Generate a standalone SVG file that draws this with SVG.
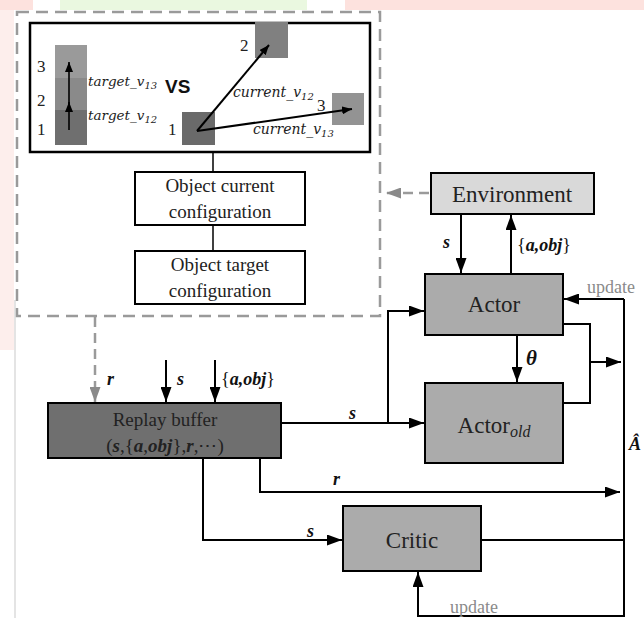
<svg xmlns="http://www.w3.org/2000/svg" width="644" height="618" viewBox="0 0 644 618">
<defs>
<marker id="ah" markerWidth="10" markerHeight="8" refX="10" refY="4" orient="auto" markerUnits="userSpaceOnUse"><path d="M0,0 L10,4 L0,8 Z" fill="#000"/></marker>
<marker id="ahb" markerWidth="15" markerHeight="11" refX="15" refY="5.5" orient="auto" markerUnits="userSpaceOnUse"><path d="M0,0 L15,5.5 L0,11 Z" fill="#000"/></marker>
<marker id="ahg" markerWidth="15" markerHeight="11" refX="15" refY="5.5" orient="auto" markerUnits="userSpaceOnUse"><path d="M0,0 L15,5.5 L0,11 Z" fill="#8a8a8a"/></marker>
</defs>
<style>
.box{stroke:#000;stroke-width:2}
.w{fill:#fff}
.lt{fill:#d9d9d9}
.md{fill:#ababab}
.dk{fill:#6f6f6f}
.ln{fill:none;stroke:#000;stroke-width:2}
.lnt{fill:none;stroke:#000;stroke-width:1.6}
.dash{fill:none;stroke:#9a9a9a;stroke-width:2.5;stroke-dasharray:12,7}
.serif{font-family:"Liberation Serif","DejaVu Serif",serif;fill:#222}
.lbl{font-family:"Liberation Serif","DejaVu Serif",serif;font-weight:bold;font-style:italic;fill:#111}
.it{font-family:"DejaVu Serif","Liberation Serif",serif;font-style:italic;fill:#222}
.upd{font-family:"Liberation Serif","DejaVu Serif",serif;fill:#8a8a8a;font-size:18px}
</style>
<rect x="0" y="0" width="644" height="618" fill="#fff"/>
<rect x="0" y="0" width="33" height="10" fill="#fde2de"/>
<rect x="60" y="0" width="247" height="10" fill="#eaf8e0"/>
<rect x="345" y="0" width="299" height="10" fill="#fde2de"/>
<rect x="0" y="10" width="14" height="340" fill="#fdeeec"/>
<line x1="15" y1="300" x2="15" y2="618" stroke="#e4e4e4" stroke-width="2"/>

<g id="config-panel">
<rect class="dash" x="17" y="12" width="363" height="304"/>
<rect x="30" y="23" width="340" height="129" fill="#fff" stroke="#000" stroke-width="2.5"/>
<rect x="55" y="45" width="32" height="33" fill="#9a9a9a"/>
<rect x="55" y="78" width="32" height="32" fill="#8a8a8a"/>
<rect x="55" y="110" width="32" height="35" fill="#6f6f6f"/>
<line class="lnt" x1="69" y1="130" x2="69" y2="102" marker-end="url(#ah)"/>
<line class="lnt" x1="69" y1="110" x2="69" y2="62" marker-end="url(#ah)"/>
<text class="serif" x="37" y="72" font-size="17">3</text>
<text class="serif" x="37" y="106" font-size="17">2</text>
<text class="serif" x="37" y="135" font-size="17">1</text>
<text class="it" x="88" y="86" font-size="13.5">target_<tspan>v</tspan><tspan font-size="10" dy="3">13</tspan></text>
<text class="it" x="88" y="120" font-size="13.5">target_<tspan>v</tspan><tspan font-size="10" dy="3">12</tspan></text>
<text x="165" y="93" font-family="'Liberation Sans',Arial,sans-serif" font-weight="bold" font-size="19" fill="#111">VS</text>
<rect x="182" y="112" width="33" height="33" fill="#6a6a6a"/>
<rect x="255" y="22" width="33" height="36" fill="#808080"/>
<rect x="332" y="93" width="32" height="32" fill="#939393"/>
<text class="serif" x="168" y="135" font-size="17">1</text>
<text class="serif" x="240" y="51" font-size="17">2</text>
<text class="serif" x="317" y="111" font-size="17">3</text>
<line class="ln" x1="197" y1="131" x2="269" y2="45" marker-end="url(#ah)"/>
<line class="ln" x1="197" y1="131" x2="352" y2="109" marker-end="url(#ah)"/>
<text class="it" x="233" y="97" font-size="14">current_<tspan>v</tspan><tspan font-size="10" dy="3">12</tspan></text>
<text class="it" x="253" y="134" font-size="14">current_<tspan>v</tspan><tspan font-size="10" dy="3">13</tspan></text>
</g>

<g id="obj-current">
<rect class="box w" x="135" y="172" width="170" height="53"/>
<text class="serif" x="220" y="192" font-size="19" text-anchor="middle">Object current</text>
<text class="serif" x="220" y="218" font-size="19" text-anchor="middle">configuration</text>
</g>
<g id="obj-target">
<rect class="box w" x="135" y="251" width="170" height="53"/>
<text class="serif" x="220" y="271" font-size="19" text-anchor="middle">Object target</text>
<text class="serif" x="220" y="297" font-size="19" text-anchor="middle">configuration</text>
</g>

<g id="environment">
<rect class="box lt" x="431" y="173" width="163" height="41"/>
<text class="serif" x="512" y="202" font-size="23" text-anchor="middle">Environment</text>
</g>
<g id="actor">
<rect class="box md" x="425" y="274" width="138" height="61"/>
<text class="serif" x="494" y="312" font-size="23" text-anchor="middle">Actor</text>
</g>
<g id="actor-old">
<rect class="box md" x="425" y="383" width="138" height="80"/>
<text class="serif" x="494" y="433" font-size="23" text-anchor="middle">Actor<tspan font-style="italic" font-size="16" dy="4">old</tspan></text>
</g>
<g id="replay-buffer">
<rect class="box dk" x="48" y="403" width="233" height="55" stroke-width="2.5"/>
<text class="serif" x="165" y="426" font-size="19" text-anchor="middle" fill="#2a2a2a">Replay buffer</text>
<text class="serif" x="165" y="452" font-size="19" text-anchor="middle" fill="#2a2a2a">(<tspan font-weight="bold" font-style="italic">s</tspan>,{<tspan font-weight="bold" font-style="italic">a</tspan>,<tspan font-weight="bold" font-style="italic">obj</tspan>},<tspan font-weight="bold" font-style="italic">r</tspan>,⋯)</text>
</g>
<g id="critic">
<rect class="box md" x="343" y="506" width="138" height="65"/>
<text class="serif" x="412" y="548" font-size="23" text-anchor="middle">Critic</text>
</g>

<g id="connectors">
<line x1="213" y1="152" x2="213" y2="172" stroke="#000" stroke-width="1.5"/>
<line x1="213" y1="225" x2="213" y2="251" stroke="#000" stroke-width="1.5"/>
<line x1="429" y1="193" x2="386" y2="193" stroke="#9a9a9a" stroke-width="2.5" stroke-dasharray="10,6" marker-end="url(#ahg)"/>
<line x1="95" y1="317" x2="95" y2="402" stroke="#9a9a9a" stroke-width="2.5" stroke-dasharray="10,6" marker-end="url(#ahg)"/>
<line class="ln" x1="461" y1="214" x2="461" y2="273" marker-end="url(#ahb)"/>
<line class="ln" x1="511" y1="274" x2="511" y2="215" marker-end="url(#ahb)"/>
<line class="ln" x1="166" y1="360" x2="166" y2="402" marker-end="url(#ahb)"/>
<line class="ln" x1="215" y1="360" x2="215" y2="402" marker-end="url(#ahb)"/>
<line class="ln" x1="517" y1="335" x2="517" y2="382" marker-end="url(#ahb)"/>
<polyline class="ln" points="281,423 424,423" marker-end="url(#ahb)"/>
<polyline class="ln" points="388,423 388,311 424,311" marker-end="url(#ahb)"/>
<polyline class="ln" points="260,458 260,492 620,492" marker-end="url(#ahb)"/>
<polyline class="ln" points="203,458 203,540 342,540" marker-end="url(#ahb)"/>
<polyline class="ln" points="481,540 624,540"/>
<polyline class="ln" points="563,324 590,324 590,403 563,403"/>
<line class="ln" x1="590" y1="362" x2="621" y2="362" marker-end="url(#ahb)"/>
<polyline class="ln" points="624,299 624,616 418,616 418,572" marker-end="url(#ahb)"/>
<line class="ln" x1="624" y1="299" x2="564" y2="299" marker-end="url(#ahb)"/>
<text class="lbl" x="443" y="248" font-size="18">s</text>
<text class="lbl" x="517" y="251" font-size="18"><tspan font-style="normal" font-weight="normal">{</tspan>a,obj<tspan font-style="normal" font-weight="normal">}</tspan></text>
<text class="lbl" x="107" y="385" font-size="18">r</text>
<text class="lbl" x="177" y="385" font-size="18">s</text>
<text class="lbl" x="221" y="385" font-size="18"><tspan font-style="normal" font-weight="normal">{</tspan>a,obj<tspan font-style="normal" font-weight="normal">}</tspan></text>
<text class="lbl" x="526" y="365" font-size="21">θ</text>
<text class="lbl" x="349" y="419" font-size="18">s</text>
<text class="lbl" x="333" y="485" font-size="18">r</text>
<text class="lbl" x="307" y="537" font-size="18">s</text>
<text class="lbl" x="629" y="450" font-size="18">Â</text>
<text class="upd" x="587" y="293">update</text>
<text class="upd" x="450" y="613">update</text>
</g>
</svg>
